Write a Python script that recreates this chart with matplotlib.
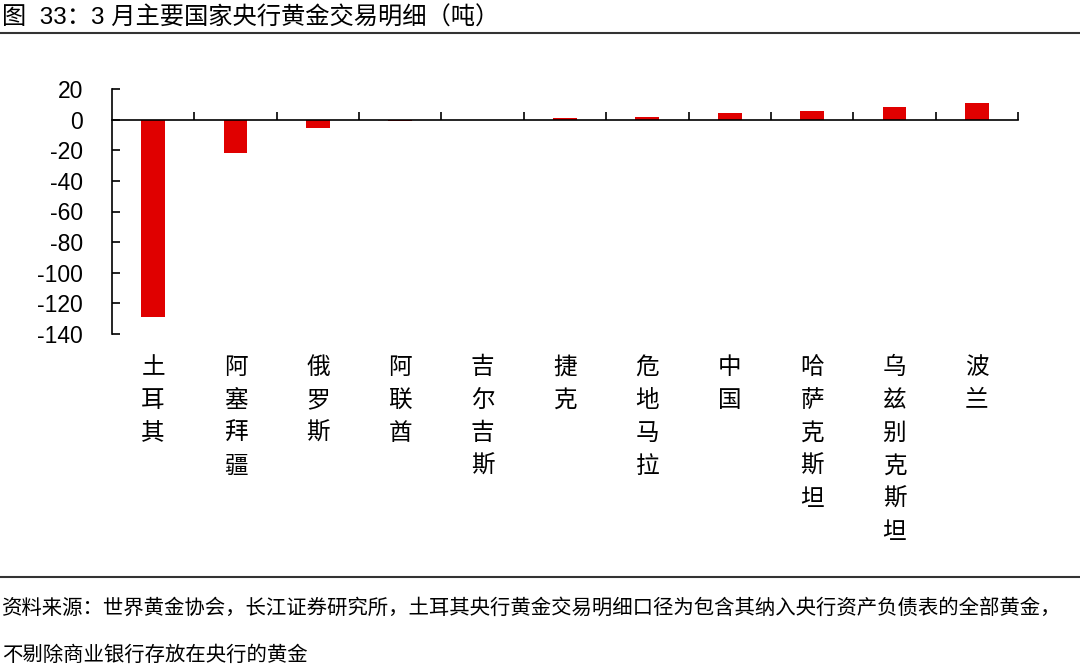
import numpy as np
import matplotlib
matplotlib.use("Agg")
import matplotlib.pyplot as plt
from matplotlib.lines import Line2D

plt.rcParams['font.family'] = ['Liberation Sans', 'Noto Sans CJK SC']
plt.rcParams['axes.unicode_minus'] = False

# 数据（吨）
countries = ['土耳其', '阿塞拜疆', '俄罗斯', '阿联酋', '吉尔吉斯', '捷克', '危地马拉',
             '中国', '哈萨克斯坦', '乌兹别克斯坦', '波兰']
changes = [-128.9, -21.5, -5.6, -1.2, -0.3, 1.1, 2.0, 4.4, 5.7, 8.3, 10.7]
yticks = [20, 0, -20, -40, -60, -80, -100, -120, -140]

title = '图  33：3 月主要国家央行黄金交易明细（吨）'
note1 = '资料来源：世界黄金协会，长江证券研究所，土耳其央行黄金交易明细口径为包含其纳入央行资产负债表的全部黄金，'
note2 = '不剔除商业银行存放在央行的黄金'

W, H = 1080, 668
fig = plt.figure(figsize=(W / 100, H / 100), dpi=100)
ax = fig.add_axes([112 / W, 1 - 334 / H, (1018 - 112) / W, (334 - 89) / H])

x = np.arange(len(countries))
ax.bar(x, changes, width=0.29, color='#E00000', zorder=2)

ax.set_xlim(-0.5, len(countries) - 0.5)
ax.set_ylim(-140, 20)
ax.set_yticks(yticks)
ax.tick_params(axis='y', direction='in', length=6, width=1.2, labelsize=16.5, pad=21)

ax.spines['top'].set_visible(False)
ax.spines['right'].set_visible(False)
ax.spines['bottom'].set_position(('data', 0))
ax.spines['left'].set_linewidth(1.2)
ax.spines['bottom'].set_linewidth(1.2)
ax.spines['bottom'].set_zorder(3)

ax.set_xticks(np.arange(len(countries)) + 0.5)
ax.set_xticklabels([])
ax.tick_params(axis='x', direction='in', length=6, width=1.2)

for i, name in enumerate(countries):
    ax.text(i, -0.09, '\n'.join(name), transform=ax.get_xaxis_transform(),
            ha='center', va='top', fontsize=17, linespacing=1.55,
            family=['Noto Sans CJK SC'])

# 标题与注释
fig.text(2 / W, 1 - 18 / H, title, fontsize=17.5, va='center', ha='left',
         family=['Liberation Sans', 'Noto Sans CJK SC'])
fig.add_artist(Line2D([0, 1], [1 - 33 / H, 1 - 33 / H], color='#333333', lw=1.5,
                      transform=fig.transFigure))
fig.add_artist(Line2D([0, 1], [1 - 577 / H, 1 - 577 / H], color='#333333', lw=1.5,
                      transform=fig.transFigure))
fig.text(2 / W, 1 - 608 / H, note1, fontsize=14.7, va='center', ha='left',
         family=['Noto Sans CJK SC'])
fig.text(2 / W, 1 - 655 / H, note2, fontsize=14.7, va='center', ha='left',
         family=['Noto Sans CJK SC'])

fig.savefig('out.png', dpi=100)
